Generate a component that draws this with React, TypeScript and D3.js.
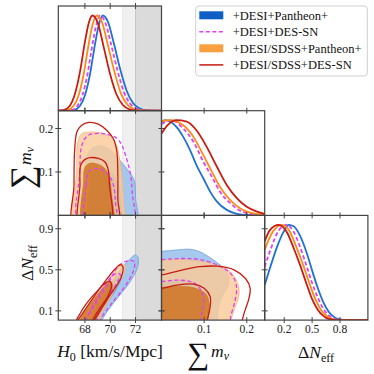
import React from "react";
import * as d3 from "d3";

// triangle plot: H0, sum m_nu, Delta N_eff for four data combinations

const legendLabels = ["+DESI+Pantheon+", "+DESI+DES-SN", "+DESI/SDSS+Pantheon+", "+DESI/SDSS+DES-SN"];

const h0Ticks = [68, 70, 72];
const mnuTicks = [0.1, 0.2];
const neffRowTicks = [0.1, 0.5, 0.9];
const neffColTicks = [0.2, 0.5, 0.8];

// SH0ES band, H0 = 73.04 +- 1.04
const shoes1 = [72.0, 74.08];
const shoes2 = [70.96, 75.12];

// 1D marginals [value, relative density]
const h0_dp = [[65.9,0],[67.1,0.005],[67.6,0.05],[68.0,0.16],[68.4,0.38],[68.8,0.7],[69.1,0.9],[69.4,1.0],[69.8,0.94],[70.3,0.7],[70.8,0.43],[71.3,0.21],[71.8,0.08],[72.3,0.025],[72.8,0.005],[74.05,0]];
const h0_dd = [[65.9,0],[66.9,0.005],[67.4,0.05],[67.8,0.16],[68.2,0.38],[68.6,0.7],[68.9,0.9],[69.2,1.0],[69.6,0.93],[70.1,0.68],[70.6,0.41],[71.1,0.19],[71.6,0.07],[72.1,0.02],[72.6,0.004],[74.05,0]];
const h0_sp = [[65.9,0],[66.6,0.005],[67.1,0.05],[67.5,0.16],[67.9,0.38],[68.3,0.7],[68.6,0.9],[68.95,1.0],[69.35,0.93],[69.85,0.67],[70.35,0.4],[70.85,0.18],[71.35,0.065],[71.85,0.018],[72.4,0.003],[74.05,0]];
const h0_sd = [[65.9,0],[66.3,0.005],[66.8,0.05],[67.2,0.17],[67.6,0.4],[68.0,0.72],[68.3,0.92],[68.6,1.0],[69.0,0.93],[69.5,0.66],[70.0,0.38],[70.5,0.17],[71.0,0.06],[71.5,0.015],[72.0,0.002],[74.05,0]];

const mnu_dp = [[0,0.98],[0.008,1.0],[0.035,0.93],[0.051,0.825],[0.067,0.686],[0.082,0.529],[0.098,0.39],[0.114,0.25],[0.13,0.145],[0.153,0.058],[0.177,0.016],[0.208,0.002],[0.242,0]];
const mnu_dd = [[0,0.96],[0.0235,1.0],[0.051,0.913],[0.075,0.773],[0.098,0.564],[0.118,0.408],[0.137,0.25],[0.161,0.128],[0.184,0.05],[0.216,0.012],[0.242,0.003]];
const mnu_sp = [[0,0.99],[0.0196,1.0],[0.051,0.948],[0.075,0.825],[0.098,0.634],[0.118,0.46],[0.137,0.3],[0.161,0.16],[0.184,0.075],[0.216,0.02],[0.242,0.005]];
const mnu_sd = [[0,0.86],[0.015,0.95],[0.035,1.0],[0.059,0.986],[0.082,0.895],[0.106,0.72],[0.13,0.511],[0.153,0.32],[0.177,0.18],[0.2,0.092],[0.224,0.04],[0.242,0.016]];

const neff_dp = [[-0.01,0.37],[0.051,0.56],[0.123,0.77],[0.194,0.93],[0.248,1.0],[0.301,0.985],[0.373,0.88],[0.444,0.7],[0.5,0.52],[0.56,0.34],[0.62,0.19],[0.68,0.085],[0.74,0.03],[0.8,0.007],[0.86,0],[1.1,0]];
const neff_dd = [[-0.01,0.56],[0.06,0.76],[0.14,0.94],[0.223,1.0],[0.3,0.93],[0.37,0.77],[0.44,0.57],[0.5,0.39],[0.56,0.24],[0.62,0.12],[0.68,0.05],[0.74,0.015],[0.8,0.003],[0.85,0],[1.1,0]];
const neff_sp = [[-0.01,0.74],[0.06,0.9],[0.176,1.0],[0.26,0.93],[0.33,0.77],[0.4,0.59],[0.47,0.39],[0.53,0.23],[0.59,0.115],[0.65,0.048],[0.71,0.014],[0.77,0.003],[0.82,0],[1.1,0]];
const neff_sd = [[-0.01,0.83],[0.05,0.95],[0.14,1.0],[0.23,0.92],[0.3,0.76],[0.37,0.58],[0.44,0.38],[0.5,0.22],[0.56,0.11],[0.62,0.045],[0.68,0.012],[0.75,0.002],[0.8,0],[1.1,0]];

// 2D contours (95% then 68%), H0 vs sum m_nu
const hm_dp_95 = [[67.95,-0.03],[67.95,0.08],[68.1,0.13],[68.6,0.155],[69.2,0.16],[69.8,0.155],[70.4,0.14],[70.95,0.12],[71.5,0.1],[71.9,0.08],[72.0,0.04],[72.05,-0.03]];
const hm_dp_68 = [[68.4,-0.03],[68.4,0.06],[68.6,0.095],[69.1,0.108],[69.7,0.105],[70.3,0.09],[70.7,0.065],[70.85,0.03],[70.9,-0.03]];
const hm_dd_95 = [[67.6,-0.03],[67.6,0.1],[67.75,0.16],[68.2,0.183],[69.0,0.189],[69.85,0.186],[70.5,0.178],[70.9,0.163],[71.3,0.13],[71.6,0.095],[71.75,0.05],[71.8,-0.03]];
const hm_dd_68 = [[68.1,-0.03],[68.1,0.07],[68.3,0.1],[68.8,0.108],[69.4,0.104],[69.9,0.092],[70.25,0.07],[70.4,0.035],[70.4,-0.03]];
const hm_sp_95 = [[67.35,-0.03],[67.35,0.1],[67.45,0.17],[67.75,0.188],[68.4,0.192],[69.2,0.19],[69.9,0.183],[70.4,0.168],[70.75,0.13],[70.95,0.08],[71.05,0.03],[71.05,-0.03]];
const hm_sp_68 = [[67.9,-0.03],[67.9,0.08],[68.0,0.11],[68.4,0.12],[69.0,0.118],[69.5,0.11],[69.9,0.09],[70.1,0.05],[70.15,-0.03]];
const hm_sd_95 = [[67.14,-0.03],[67.14,0.07],[67.19,0.15],[67.37,0.192],[67.72,0.207],[68.32,0.214],[69.06,0.21],[69.72,0.196],[70.24,0.177],[70.51,0.15],[70.6,0.1],[70.6,0.04],[70.6,-0.03]];
const hm_sd_68 = [[67.61,-0.03],[67.61,0.07],[67.67,0.116],[68.01,0.129],[68.4,0.133],[69.06,0.131],[69.59,0.123],[69.85,0.104],[69.93,0.074],[69.98,-0.03]];

// H0 vs Delta N_eff
const hn_dp_95 = [[68.1,-0.05],[68.4,0.02],[69.3,0.22],[70.2,0.4],[71.0,0.53],[71.6,0.61],[72.0,0.645],[72.2,0.62],[72.15,0.52],[71.55,0.38],[70.6,0.23],[69.8,0.1],[69.3,0.0],[69.1,-0.05]];
const hn_dp_68 = [[68.2,-0.05],[68.6,0.06],[69.4,0.22],[70.2,0.38],[70.7,0.45],[70.85,0.42],[70.5,0.32],[69.8,0.18],[69.2,0.05],[69.0,-0.05]];
const hn_dd_95 = [[67.8,-0.05],[68.0,0.0],[69.0,0.2],[69.9,0.38],[70.6,0.53],[71.3,0.585],[71.9,0.58],[71.8,0.48],[71.15,0.335],[70.1,0.17],[69.3,0.03],[69.1,-0.05]];
const hn_dd_68 = [[67.9,-0.05],[68.3,0.07],[69.2,0.27],[70.0,0.42],[70.6,0.47],[70.8,0.45],[70.4,0.35],[69.5,0.17],[69.0,0.05],[68.8,-0.05]];
const hn_sp_95 = [[67.4,-0.05],[67.6,0.0],[68.6,0.18],[69.6,0.36],[70.5,0.5],[70.9,0.55],[71.15,0.55],[71.1,0.47],[70.6,0.36],[69.9,0.2],[69.3,0.07],[69.0,-0.05]];
const hn_sp_68 = [[67.5,-0.05],[67.8,0.06],[68.4,0.17],[69.1,0.28],[69.7,0.36],[70.05,0.385],[70.2,0.33],[69.9,0.23],[69.3,0.11],[68.9,0.02],[68.7,-0.05]];
const hn_sd_95 = [[67.1,-0.05],[67.4,0.0],[68.5,0.2],[69.55,0.38],[70.4,0.51],[70.8,0.55],[71.0,0.53],[70.85,0.42],[70.3,0.31],[69.8,0.22],[69.2,0.1],[68.8,0.02],[68.6,-0.05]];
const hn_sd_68 = [[67.2,-0.05],[67.6,0.07],[68.15,0.175],[68.95,0.29],[69.6,0.37],[69.95,0.39],[70.1,0.34],[69.8,0.24],[69.2,0.13],[68.7,0.03],[68.5,-0.05]];

// sum m_nu vs Delta N_eff
const mn_dp_95 = [[-0.02,0.68],[0.0,0.68],[0.035,0.693],[0.067,0.7],[0.09,0.675],[0.122,0.595],[0.145,0.515],[0.157,0.43],[0.155,0.335],[0.142,0.24],[0.134,0.14],[0.13,0.0],[0.13,-0.05],[-0.02,-0.05]];
const mn_dp_68 = [[-0.02,0.39],[0.0,0.39],[0.04,0.4],[0.075,0.37],[0.095,0.3],[0.1,0.17],[0.097,0.0],[0.095,-0.05],[-0.02,-0.05]];
const mn_dd_95 = [[-0.02,0.6],[0.0,0.6],[0.05,0.61],[0.09,0.6],[0.137,0.535],[0.165,0.45],[0.176,0.335],[0.172,0.19],[0.162,0.04],[0.16,-0.05],[-0.02,-0.05]];
const mn_dd_68 = [[-0.02,0.385],[0.0,0.385],[0.035,0.4],[0.075,0.375],[0.094,0.29],[0.099,0.17],[0.092,0.04],[0.09,-0.05],[-0.02,-0.05]];
const mn_sp_95 = [[-0.02,0.59],[0.0,0.595],[0.05,0.6],[0.114,0.565],[0.16,0.485],[0.18,0.35],[0.181,0.237],[0.17,0.107],[0.162,0.0],[0.16,-0.05],[-0.02,-0.05]];
const mn_sp_68 = [[-0.02,0.33],[0.0,0.33],[0.04,0.34],[0.08,0.32],[0.105,0.26],[0.112,0.15],[0.108,0.0],[0.105,-0.05],[-0.02,-0.05]];
const mn_sd_95 = [[-0.02,0.44],[0.0,0.45],[0.05,0.5],[0.09,0.53],[0.13,0.535],[0.17,0.5],[0.197,0.415],[0.208,0.32],[0.204,0.205],[0.196,0.107],[0.189,0.0],[0.188,-0.05],[-0.02,-0.05]];
const mn_sd_68 = [[-0.02,0.32],[0.0,0.32],[0.035,0.35],[0.075,0.36],[0.1,0.32],[0.114,0.24],[0.114,0.14],[0.107,0.0],[0.105,-0.05],[-0.02,-0.05]];

const C = [58.3, 161.5, 264.7, 367.9];
const R = [6, 110.7, 215.4, 320.1];
const serif = "'Liberation Serif', 'Times New Roman', serif";
const frame = "#444";

const series = [
  { label: legendLabels[0], line: "#1f72cf", patch: "#0d5fc6", filled: true, outer: "#94bdea", edge: "#6d9fda", inner: "#4f8bd4", dash: null,
    h0: h0_dp, mnu: mnu_dp, neff: neff_dp, hm: [hm_dp_95, hm_dp_68], hn: [hn_dp_95, hn_dp_68], mn: [mn_dp_95, mn_dp_68] },
  { label: legendLabels[1], line: "#e040f0", patch: "#e040f0", filled: false, dash: "4,2.5",
    h0: h0_dd, mnu: mnu_dd, neff: neff_dd, hm: [hm_dd_95, hm_dd_68], hn: [hn_dd_95, hn_dd_68], mn: [mn_dd_95, mn_dd_68] },
  { label: legendLabels[2], line: "#ff8a17", patch: "#f9a040", filled: true, outer: "#fbca98", edge: "#f6b67a", inner: "#cf721e", dash: null,
    h0: h0_sp, mnu: mnu_sp, neff: neff_sp, hm: [hm_sp_95, hm_sp_68], hn: [hn_sp_95, hn_sp_68], mn: [mn_sp_95, mn_sp_68] },
  { label: legendLabels[3], line: "#c81c12", patch: "#c81c12", filled: false, dash: null,
    h0: h0_sd, mnu: mnu_sd, neff: neff_sd, hm: [hm_sd_95, hm_sd_68], hn: [hn_sd_95, hn_sd_68], mn: [mn_sd_95, mn_sd_68] },
];

export default function App() {
  const xH0 = d3.scaleLinear().domain([65.9, 74.05]).range([C[0], C[1]]);
  const xMnu = d3.scaleLinear().domain([0, 0.242]).range([C[1], C[2]]);
  const xNeff = d3.scaleLinear().domain([-0.01, 1.1]).range([C[2], C[3]]);
  const yMnu = d3.scaleLinear().domain([0, 0.241]).range([R[2], R[1]]);
  const yNeff = d3.scaleLinear().domain([0.01, 1.03]).range([R[3], R[2]]);
  const yPdf = (row: number) => d3.scaleLinear().domain([0, 1.1]).range([R[row + 1], R[row]]);

  const pdfLine = (xs: any, ys: any) =>
    d3.line<number[]>().x((d) => xs(d[0])).y((d) => ys(d[1])).curve(d3.curveMonotoneX);
  const ring = (xs: any, ys: any) =>
    d3.line<number[]>().x((d) => xs(d[0])).y((d) => ys(d[1])).curve(d3.curveCatmullRomClosed.alpha(0.5));

  const clips = [
    { id: "c11", c: 0, r: 0 }, { id: "c21", c: 0, r: 1 }, { id: "c22", c: 1, r: 1 },
    { id: "c31", c: 0, r: 2 }, { id: "c32", c: 1, r: 2 }, { id: "c33", c: 2, r: 2 },
  ];

  const band = (r: number) => (
    <g>
      <rect x={xH0(shoes2[0])} y={R[r]} width={xH0(shoes2[1]) - xH0(shoes2[0])} height={R[r + 1] - R[r]} fill="#000" fillOpacity={0.06} />
      <rect x={xH0(shoes1[0])} y={R[r]} width={xH0(shoes1[1]) - xH0(shoes1[0])} height={R[r + 1] - R[r]} fill="#000" fillOpacity={0.085} />
      <line x1={xH0(shoes1[0])} x2={xH0(shoes1[0])} y1={R[r]} y2={R[r + 1]} stroke="#000" strokeOpacity={0.15} />
      <line x1={xH0(shoes2[0])} x2={xH0(shoes2[0])} y1={R[r]} y2={R[r + 1]} stroke="#000" strokeOpacity={0.06} />
    </g>
  );

  const pdfPanel = (id: string, xs: any, row: number, key: "h0" | "mnu" | "neff") => {
    const gen = pdfLine(xs, yPdf(row));
    return (
      <g clipPath={`url(#${id})`}>
        {series.map((s, i) => (
          <path key={i} d={gen(s[key] as number[][]) || ""} fill="none" stroke={s.line}
            strokeWidth={1.8} strokeDasharray={s.dash || undefined} />
        ))}
      </g>
    );
  };

  const contourPanel = (id: string, xs: any, ys: any, key: "hm" | "hn" | "mn") => {
    const gen = ring(xs, ys);
    return (
      <g clipPath={`url(#${id})`}>
        {series.filter((s) => s.filled).map((s, i) => (
          <g key={"f" + i}>
            <path d={gen(s[key][0]) || ""} fill={s.outer} fillOpacity={0.82} stroke={s.edge} strokeWidth={0.8} />
            <path d={gen(s[key][1]) || ""} fill={s.inner} fillOpacity={0.82} stroke={s.inner} strokeWidth={0.6} />
          </g>
        ))}
        {series.filter((s) => !s.filled).map((s, i) => (
          <g key={"l" + i}>
            {s[key].map((lvl, j) => (
              <path key={j} d={gen(lvl) || ""} fill="none" stroke={s.line} strokeWidth={1.3}
                strokeDasharray={s.dash || undefined} />
            ))}
          </g>
        ))}
      </g>
    );
  };

  const xTicks = (xs: any, ticks: number[], r: number) =>
    ticks.map((t) => (
      <g key={`${r}-${t}`}>
        <line x1={xs(t)} x2={xs(t)} y1={R[r] - 3} y2={R[r] + 3} stroke={frame} strokeWidth={1} />
        <line x1={xs(t)} x2={xs(t)} y1={R[r + 1] - 3} y2={R[r + 1] + 3} stroke={frame} strokeWidth={1} />
      </g>
    ));
  const yTicks = (ys: any, ticks: number[], c: number) =>
    ticks.map((t) => (
      <g key={`${c}-${t}`}>
        <line x1={C[c] - 3} x2={C[c] + 3} y1={ys(t)} y2={ys(t)} stroke={frame} strokeWidth={1} />
        <line x1={C[c + 1] - 3} x2={C[c + 1] + 3} y1={ys(t)} y2={ys(t)} stroke={frame} strokeWidth={1} />
      </g>
    ));

  const legendY = [15.3, 31.8, 48.3, 64.9];

  return (
    <svg width={374} height={374} style={{ position: "absolute", left: 0, top: 0, background: "#fff" }} fontFamily={serif}>
      <defs>
        {clips.map((p) => (
          <clipPath key={p.id} id={p.id}>
            <rect x={C[p.c]} y={R[p.r]} width={C[p.c + 1] - C[p.c]} height={R[p.r + 1] - R[p.r]} />
          </clipPath>
        ))}
      </defs>

      <g clipPath="url(#c11)">{band(0)}</g>
      <g clipPath="url(#c21)">{band(1)}</g>
      <g clipPath="url(#c31)">{band(2)}</g>

      {pdfPanel("c11", xH0, 0, "h0")}
      {pdfPanel("c22", xMnu, 1, "mnu")}
      {pdfPanel("c33", xNeff, 2, "neff")}
      {contourPanel("c21", xH0, yMnu, "hm")}
      {contourPanel("c31", xH0, yNeff, "hn")}
      {contourPanel("c32", xMnu, yNeff, "mn")}

      {clips.map((p) => (
        <rect key={"f" + p.id} x={C[p.c]} y={R[p.r]} width={C[p.c + 1] - C[p.c]} height={R[p.r + 1] - R[p.r]}
          fill="none" stroke={frame} strokeWidth={1.2} />
      ))}

      {xTicks(xH0, h0Ticks, 0)}
      {xTicks(xH0, h0Ticks, 1)}
      {xTicks(xH0, h0Ticks, 2)}
      {xTicks(xMnu, mnuTicks, 1)}
      {xTicks(xMnu, mnuTicks, 2)}
      {xTicks(xNeff, neffColTicks, 2)}
      {yTicks(yMnu, mnuTicks, 0)}
      {yTicks(yNeff, neffRowTicks, 0)}
      {yTicks(yNeff, neffRowTicks, 1)}

      <g fontSize={11.5} fill="#222">
        {h0Ticks.map((t) => <text key={"bx" + t} x={xH0(t)} y={R[3] + 13.2} textAnchor="middle">{t}</text>)}
        {mnuTicks.map((t) => <text key={"bm" + t} x={xMnu(t)} y={R[3] + 13.2} textAnchor="middle">{t}</text>)}
        {neffColTicks.map((t) => <text key={"bn" + t} x={xNeff(t)} y={R[3] + 13.2} textAnchor="middle">{t}</text>)}
        {mnuTicks.map((t) => <text key={"lm" + t} x={C[0] - 5} y={yMnu(t) + 4} textAnchor="end">{t}</text>)}
        {neffRowTicks.map((t) => <text key={"ln" + t} x={C[0] - 5} y={yNeff(t) + 4} textAnchor="end">{t}</text>)}
      </g>

      <g fill="#111">
        <text x={110} y={356.5} fontSize={17.5} textAnchor="middle">
          <tspan fontStyle="italic">H</tspan><tspan fontSize={12} dy={4}>0</tspan><tspan dy={-4}> [km/s/Mpc]</tspan>
        </text>
        <text x={187} y={364} fontSize={31}>∑</text>
        <text x={211} y={357} fontSize={17.5} fontStyle="italic">m<tspan fontSize={12} dy={3}>ν</tspan></text>
        <text x={316} y={358} fontSize={17.5} textAnchor="middle">
          Δ<tspan fontStyle="italic">N</tspan><tspan fontSize={12} dy={4}>eff</tspan>
        </text>
        <g transform="translate(31,189) rotate(-90)">
          <text x={0} y={2} fontSize={33}>∑</text>
          <text x={24} y={0} fontSize={17.5} fontStyle="italic">m<tspan fontSize={12} dy={3}>ν</tspan></text>
        </g>
        <g transform="translate(33,263) rotate(-90)">
          <text textAnchor="middle" fontSize={17.5}>
            Δ<tspan fontStyle="italic">N</tspan><tspan fontSize={12} dy={4}>eff</tspan>
          </text>
        </g>
      </g>

      <g>
        <rect x={195.7} y={6} width={171.6} height={70} rx={3} fill="#fff" fillOpacity={0.85} stroke="#d0d0d0" strokeWidth={1} />
        {series.map((s, i) => (
          <g key={"lg" + i}>
            {s.filled ? (
              <rect x={199.3} y={legendY[i] - 4} width={24} height={8} fill={s.patch} />
            ) : (
              <line x1={199.3} x2={223.3} y1={legendY[i]} y2={legendY[i]} stroke={s.line} strokeWidth={1.5}
                strokeDasharray={s.dash || undefined} />
            )}
            <text x={232.7} y={legendY[i] + 4.3} fontSize={12.5} fill="#111">{s.label}</text>
          </g>
        ))}
      </g>
    </svg>
  );
}
